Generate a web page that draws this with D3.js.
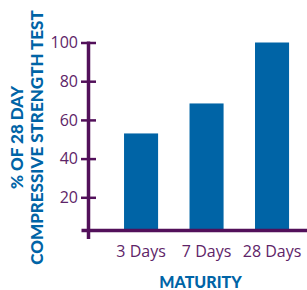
<!DOCTYPE html>
<html>
<head>
<meta charset="utf-8">
<script src="https://cdn.jsdelivr.net/npm/d3@7"></script>
<style>
  body { margin: 0; background: #fff; }
  svg { display: block; }
</style>
</head>
<body>
<svg width="307" height="290"></svg>
<script>
// chart values
var categories = ['3 Days', '7 Days', '28 Days'];
var strength = [53, 68.5, 100];
var yTicks = [20, 40, 60, 80, 100];

var svg = d3.select('svg');

var purple = '#52105a';
var labelPurple = '#5e2468';
var blue = '#0064a6';
var baseY = 230.5; // where the x axis line sits

var xScale = d3.scaleBand()
    .domain(categories)
    .range([92.6, 320.5])
    .padding(0.48);

var yScale = d3.scaleLinear()
    .domain([0, 100])
    .range([236, 42.5]);

// bars
svg.selectAll('.bar')
    .data(strength)
    .enter()
    .append('rect')
    .attr('class', 'bar')
    .attr('x', (d, i) => xScale(categories[i]))
    .attr('width', xScale.bandwidth())
    .attr('y', d => yScale(d))
    .attr('height', d => baseY - yScale(d))
    .attr('fill', blue);

// y axis
var yAxis = d3.axisLeft(yScale)
    .tickValues(yTicks)
    .tickSize(15)
    .tickPadding(3)
    .tickFormat(d3.format('d'));

var gy = svg.append('g')
    .attr('transform', 'translate(96,0)')
    .call(yAxis);
gy.select('.domain').remove();
gy.selectAll('line')
    .attr('stroke', purple)
    .attr('stroke-width', 2.5);
gy.selectAll('text')
    .attr('fill', labelPurple)
    .style('font-family', '"Open Sans", sans-serif')
    .style('font-weight', 400)
    .style('font-size', '16px');

// axis lines
svg.append('line')
    .attr('x1', 88.5).attr('x2', 88.5)
    .attr('y1', yScale(100) - 1).attr('y2', 239)
    .attr('stroke', purple)
    .attr('stroke-width', 3.5);

svg.append('line')
    .attr('x1', 81.5).attr('x2', 307)
    .attr('y1', baseY).attr('y2', baseY)
    .attr('stroke', purple)
    .attr('stroke-width', 3.5);

// x labels
var xAxis = d3.axisBottom(xScale).tickSize(0).tickPadding(0);
var gx = svg.append('g')
    .attr('transform', 'translate(0,246)')
    .call(xAxis);
gx.select('.domain').remove();
gx.selectAll('text')
    .attr('fill', labelPurple)
    .style('font-family', '"Open Sans", sans-serif')
    .style('font-weight', 400)
    .style('font-size', '16px');

// axis titles
svg.append('text')
    .attr('x', 200.5)
    .attr('y', 288)
    .attr('text-anchor', 'middle')
    .attr('fill', blue)
    .style('font-family', 'Lato, sans-serif')
    .style('font-weight', 900)
    .style('font-size', '16px')
    .text('MATURITY');

var yTitle = svg.append('g')
    .attr('transform', 'translate(0,137.5) rotate(-90)')
    .attr('fill', blue)
    .style('font-family', 'Lato, sans-serif')
    .style('font-weight', 900)
    .style('font-size', '17px')
    .attr('text-anchor', 'middle');

yTitle.append('text')
    .attr('x', 0).attr('y', 23)
    .text('% OF 28 DAY');
yTitle.append('text')
    .attr('x', 0).attr('y', 42.5)
    .text('COMPRESSIVE STRENGTH TEST');
</script>
</body>
</html>
